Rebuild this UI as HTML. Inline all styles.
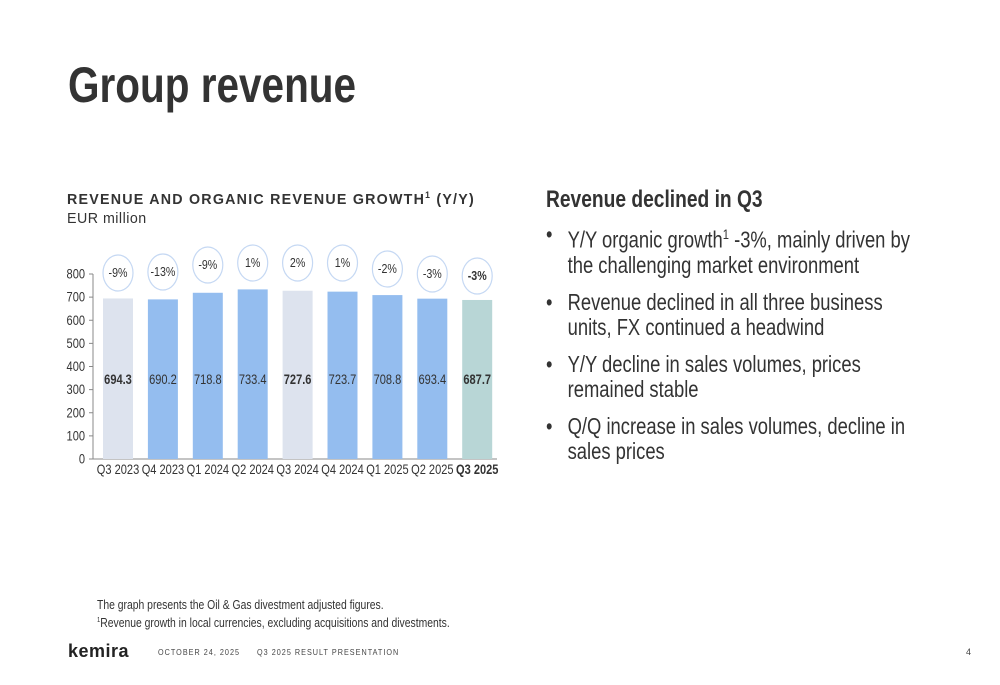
<!DOCTYPE html>
<html><head><meta charset="utf-8"><style>
body{margin:0;width:1000px;height:685px;background:#fff;font-family:"Liberation Sans",sans-serif;color:#333;position:relative;overflow:hidden}
.a{position:absolute;white-space:nowrap;transform-origin:0 0}
ul{margin:0;padding:0;list-style:none}
li{position:relative;padding-left:27px;margin-bottom:12px;font-size:23px;line-height:25px;color:#333}
li:before{content:"•";position:absolute;left:0}
</style></head><body>
<div class="a" style="left:68px;top:56px;font-size:50px;font-weight:bold;color:#333;transform:scaleX(0.81)">Group revenue</div>
<div class="a" style="left:67px;top:190px;font-size:15px;font-weight:bold;letter-spacing:1.3px;transform:scaleX(0.95)">REVENUE AND ORGANIC REVENUE GROWTH<sup style="font-size:9px">1</sup> (Y/Y)</div>
<div class="a" style="left:67px;top:210px;font-size:15px;letter-spacing:0.5px;transform:scaleX(0.95)">EUR million</div>
<svg class="a" id="chart" style="left:0;top:0" width="520" height="490"></svg>
<div class="a" style="left:546px;top:186px;font-size:24px;font-weight:bold;transform:scaleX(0.8)">Revenue declined in Q3</div>
<ul class="a" style="left:546px;top:222px;white-space:normal;width:475px;transform:scaleX(0.8)">
<li>Y/Y organic growth<sup style="font-size:14px">1</sup> -3%, mainly driven by the challenging market environment</li>
<li>Revenue declined in all three business units, FX continued a headwind</li>
<li>Y/Y decline in sales volumes, prices remained stable</li>
<li>Q/Q increase in sales volumes, decline in sales prices</li>
</ul>
<div class="a" style="left:97px;top:597px;font-size:12.5px;line-height:16px;transform:scaleX(0.83)">The graph presents the Oil &amp; Gas divestment adjusted figures.<br><sup style="font-size:7px">1</sup>Revenue growth in local currencies, excluding acquisitions and divestments.</div>
<div class="a" style="left:68px;top:641px;font-size:18px;font-weight:bold;color:#222;letter-spacing:0.5px">kemira</div>
<div class="a" style="left:158px;top:647px;font-size:8.5px;letter-spacing:1.2px;color:#444;transform:scaleX(0.85)">OCTOBER 24, 2025</div>
<div class="a" style="left:257px;top:647px;font-size:8.5px;letter-spacing:1.2px;color:#444;transform:scaleX(0.85)">Q3 2025 RESULT PRESENTATION</div>
<div class="a" style="left:966px;top:647px;font-size:9px;color:#444">4</div>
<script>
const categories=["Q3 2023","Q4 2023","Q1 2024","Q2 2024","Q3 2024","Q4 2024","Q1 2025","Q2 2025","Q3 2025"];
const revenue=[694.3,690.2,718.8,733.4,727.6,723.7,708.8,693.4,687.7];
const growth=["-9%","-13%","-9%","1%","2%","1%","-2%","-3%","-3%"];
const growthBubbleY=[273,272,265,263,263,263,269,274,276];
const barColors=["#dde3ee","#94bdef","#94bdef","#94bdef","#dde3ee","#94bdef","#94bdef","#94bdef","#b8d6d6"];
const boldLabels=[true,false,false,false,true,false,false,false,true];
const yTicks=[0,100,200,300,400,500,600,700,800];
const svg=document.getElementById('chart');
const NS="http://www.w3.org/2000/svg";
const y0=459,yTop=274,yMax=800;
const yScale=v=>y0-(y0-yTop)*v/yMax;
const xStart=103,pitch=44.9,bw=30;
const xScale=i=>xStart+i*pitch;
function mk(t,a){const e=document.createElementNS(NS,t);for(const k in a)e.setAttribute(k,a[k]);svg.appendChild(e);return e;}
function txt(x,y,s,anchor,size,bold){const t=mk('text',{x:0,y:0,transform:'translate('+x+','+y+') scale(0.82,1)','text-anchor':anchor,'font-size':size,fill:'#333','font-weight':bold?'bold':'normal','font-family':'Liberation Sans, sans-serif'});t.textContent=s;return t;}
let ax=mk('line',{x1:93,y1:y0,x2:497,y2:y0,stroke:'#888','stroke-width':1});


let ay=mk('line',{x1:93,y1:yTop,x2:93,y2:y0,stroke:'#888','stroke-width':1});


yTicks.forEach(v=>{
 mk('line',{x1:89,y1:yScale(v),x2:93,y2:yScale(v),stroke:'#888'});
 const t=txt(85,yScale(v)+4.5,v,'end',13.5,false);
 
 
});
categories.forEach((c,i)=>{
 const x=xScale(i);
 const r=mk('rect',{x:x,y:yScale(revenue[i]),width:bw,height:y0-yScale(revenue[i]),fill:barColors[i]});
 
 
 const v=txt(x+bw/2,384,revenue[i].toFixed(1),'middle',13.5,boldLabels[i]);
 
 
 const l=txt(x+bw/2,474,c,'middle',13.5,i==8);
 
 
 const by=growthBubbleY[i];
 const e=mk('ellipse',{cx:x+bw/2,cy:by,rx:15,ry:18,fill:'#fff',stroke:'#c5d8f3','stroke-width':1.2});
 
 
 const g=txt(x+bw/2,by+4,growth[i],'middle',13,i==8);
 
 
});
</script>
</body></html>
